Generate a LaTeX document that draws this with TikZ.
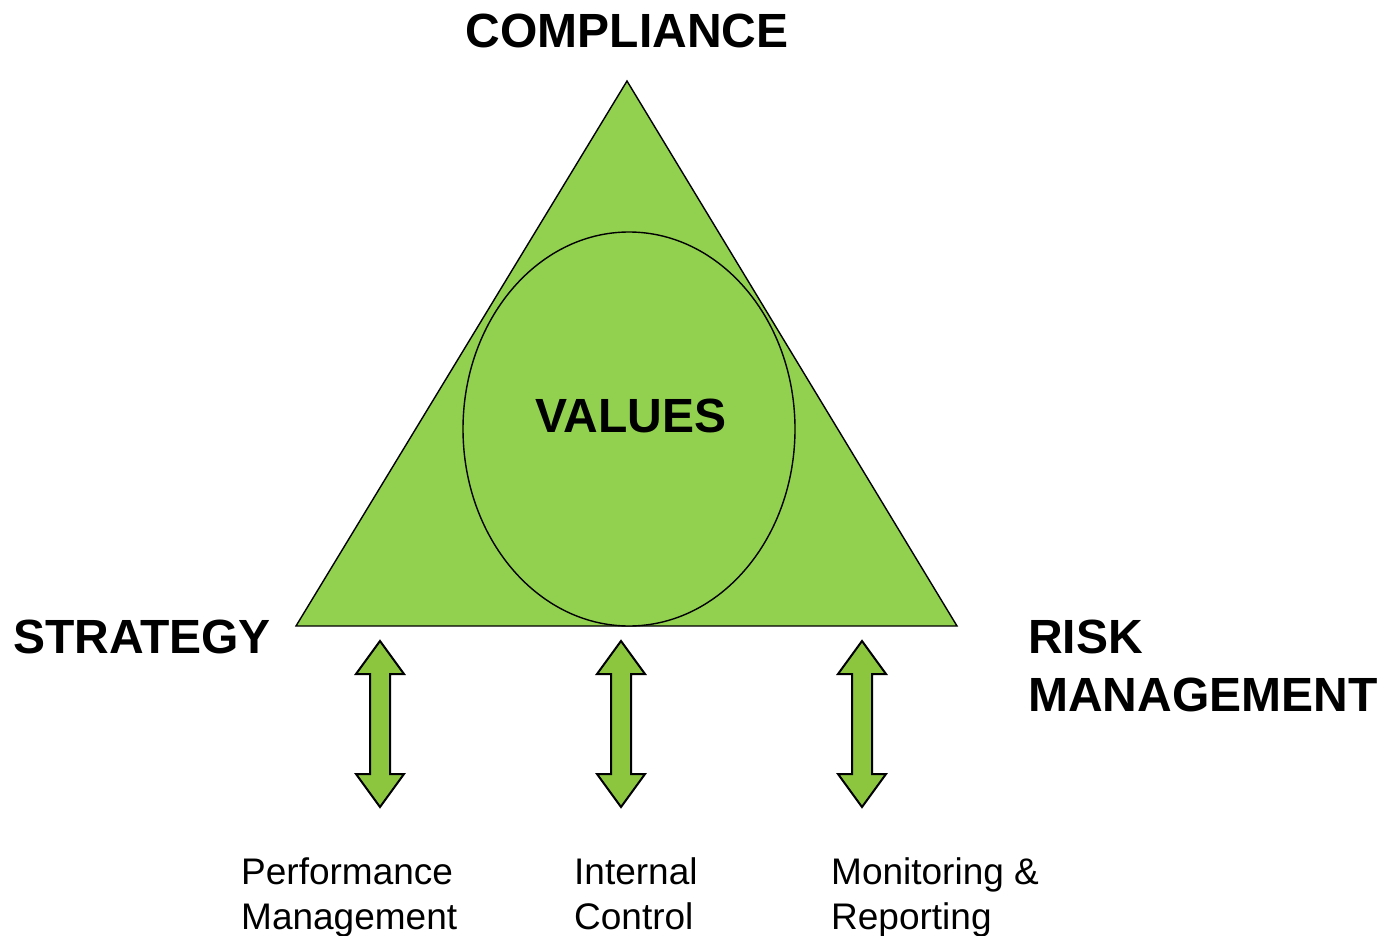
\documentclass[tikz,border=0pt]{standalone}
\usepackage{fontspec}
\setmainfont{Liberation Sans}
\begin{document}
\begin{tikzpicture}[x=1pt,y=-1pt,
  heading/.style={font=\fontsize{48}{56}\selectfont\bfseries, inner sep=0pt},
  caption/.style={font=\fontsize{37}{45}\selectfont, inner sep=0pt, align=left, anchor=base west},
  fillgreen/.style={fill=leafgreen, draw=black, line width=1.4pt},
  twoway/.style={fill=arrowgreen, draw=black, line width=2pt, line join=miter}]
\definecolor{leafgreen}{HTML}{92D050}
\definecolor{arrowgreen}{HTML}{8CC63F}
\useasboundingbox (0,0) rectangle (1389,936);

% triangle and central ellipse
\coordinate (apex) at (627,81);
\coordinate (bl) at (296,626);
\coordinate (br) at (957,626);
\draw[fillgreen] (apex) -- (bl) -- (br) -- cycle;
\draw[fillgreen] (629,429) ellipse [x radius=166, y radius=197];

% corner labels
\node[heading, anchor=base] (compliance) at (627,48) {COMPLIANCE};
\node[heading, anchor=base] (values) at (631,432) {VALUES};
\node[heading, anchor=base west] (strategy) at (13,653) {STRATEGY};
\node[heading, anchor=base west] (risk) at (1028,653) {RISK};
\node[heading, anchor=base west] (mgmt) at (1028,711) {MANAGEMENT};

% double-headed arrows below the base
\foreach \cx in {380,621,862}{
  \draw[twoway] (\cx,641) -- (\cx+24,674) -- (\cx+10,674) -- (\cx+10,774)
     -- (\cx+24,774) -- (\cx,807) -- (\cx-24,774) -- (\cx-10,774)
     -- (\cx-10,674) -- (\cx-24,674) -- cycle;
}

% captions under the arrows (anchored on the baseline of the second line)
\node[caption] (perf) at (241,929) {Performance\\Management};
\node[caption] (ic) at (574,929) {Internal\\Control};
\node[caption] (mr) at (831,929) {Monitoring \&\\Reporting};
\end{tikzpicture}
\end{document}
